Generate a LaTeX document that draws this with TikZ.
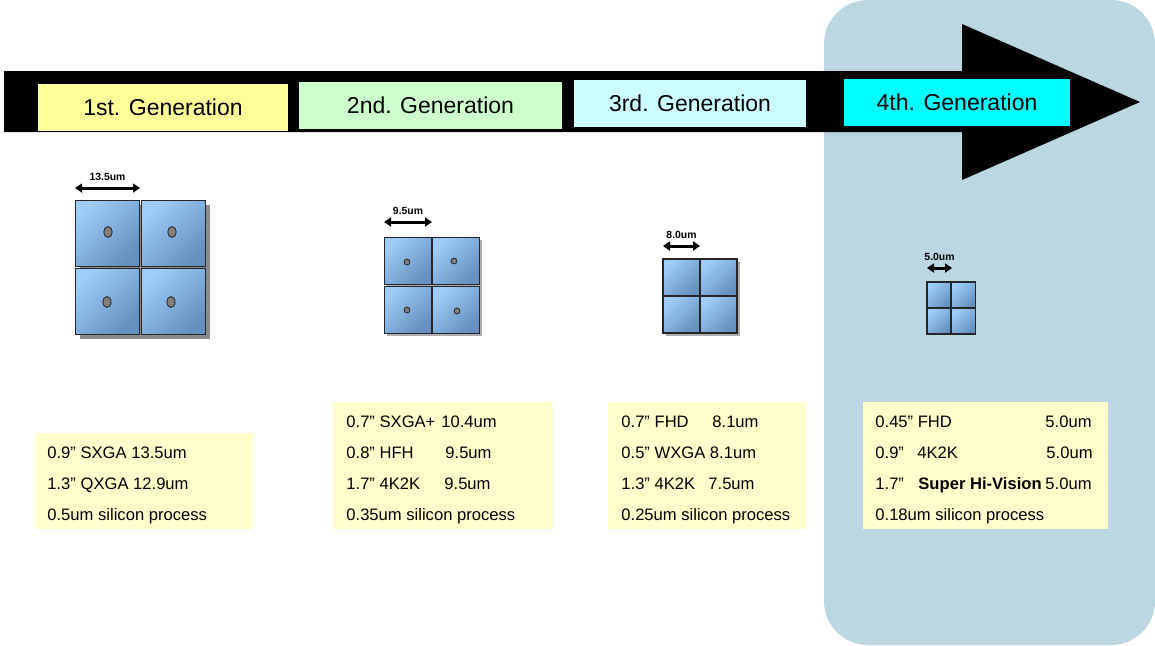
\documentclass[tikz,border=0pt]{standalone}
\usepackage{fontspec}
\setmainfont{Liberation Sans}
\usetikzlibrary{arrows.meta,shapes.geometric}
\definecolor{bgblue}{HTML}{BAD7E2}
\definecolor{gena}{HTML}{FFFF99}
\definecolor{genb}{HTML}{CCFFCC}
\definecolor{genc}{HTML}{CCFFFF}
\definecolor{gend}{HTML}{00FFFF}
\definecolor{memo}{HTML}{FFFFCC}
\definecolor{pixlight}{HTML}{9DCDF8}
\definecolor{pixdark}{HTML}{6690BE}
\definecolor{pixshadow}{HTML}{8C8C8C}

\begin{document}
\begin{tikzpicture}[x=0.5pt,y=-0.5pt,
	gen/.style = {minimum height=23.5pt, inner sep=0pt, font=\fontsize{11.5}{12}\selectfont},
	pix/.style = {draw=black!85, line width=0.5pt, top color=pixlight, bottom color=pixdark, shading angle=45, inner sep=0pt, outer sep=0pt},
	dot/.style = {draw=black!80, fill=gray, ellipse, line width=0.5pt, inner sep=0pt},
	memobox/.style = {fill=memo, inner sep=0pt},
	info/.style = {anchor=base west, inner sep=0pt, font=\fontsize{8.3}{10}\selectfont},
	infor/.style = {anchor=base east, inner sep=0pt, font=\fontsize{8.3}{10}\selectfont},
	dim/.style = {{Triangle[length=3.5pt,width=4.5pt]}-{Triangle[length=3.5pt,width=4.5pt]}, line width=1.5pt},
	dimlabel/.style = {inner sep=1pt, font=\bfseries\fontsize{5.2}{6}\selectfont}]
	\useasboundingbox (0,0) rectangle (1155,645);
	
	% background of the 4th generation
	\fill[bgblue, rounded corners=22pt] (824,0) rectangle (1155,645);
	
	% time arrow
	\fill[black] (4,71) -- (962,71) -- (962,24) -- (1140,102) -- (962,180) -- (962,132) -- (4,132) -- cycle;
	
	\node[gen, fill=gena, minimum width=125pt] (1) at (163,107) {1st. Generation};
	\node[gen, fill=genb, minimum width=131.5pt] (2) at (430.5,105.5) {2nd. Generation};
	\node[gen, fill=genc, minimum width=116pt] (3) at (690,103.5) {3rd. Generation};
	\node[gen, fill=gend, minimum width=113pt] (4) at (957,102.5) {4th. Generation};
	
	% pixels 13.5um
	\fill[pixshadow] (80,205) rectangle (210,339);
	\node[pix, minimum width=32pt, minimum height=33pt] (1a) at (107,233) {};
	\node[pix, minimum width=32pt, minimum height=33pt] (1b) at (173.5,233) {};
	\node[pix, minimum width=32pt, minimum height=33pt] (1c) at (107,301) {};
	\node[pix, minimum width=32pt, minimum height=33pt] (1d) at (173.5,301) {};
	\node[dot, minimum width=4.2pt, minimum height=5.4pt] (1ad) at (108,232) {};
	\node[dot, minimum width=4.2pt, minimum height=5.4pt] (1bd) at (172,232) {};
	\node[dot, minimum width=4.2pt, minimum height=5.4pt] (1cd) at (107,302) {};
	\node[dot, minimum width=4.2pt, minimum height=5.4pt] (1dd) at (171,302) {};
	\coordinate (1l) at (75,188);
	\coordinate (1r) at (140,188);
	
	% pixels 9.5um
	\fill[pixshadow!70] (387,240) rectangle (482,336);
	\node[pix, minimum size=23.5pt] (2a) at (407.5,260.5) {};
	\node[pix, minimum size=23.5pt] (2b) at (456,260.5) {};
	\node[pix, minimum size=23.5pt] (2c) at (407.5,309.5) {};
	\node[pix, minimum size=23.5pt] (2d) at (456,309.5) {};
	\node[dot, minimum size=2.9pt] (2ad) at (407,262) {};
	\node[dot, minimum size=2.9pt] (2bd) at (454,261) {};
	\node[dot, minimum size=2.9pt] (2cd) at (407,310) {};
	\node[dot, minimum size=2.9pt] (2dd) at (457,311) {};
	\coordinate (2l) at (384,222);
	\coordinate (2r) at (432,222);
	
	% pixels 8.0um
	\fill[pixshadow!70] (666,262) rectangle (740,336);
	\node[pix, line width=0.8pt, minimum size=18.5pt] (3a) at (681.5,277.5) {};
	\node[pix, line width=0.8pt, minimum size=18.5pt] (3b) at (718.5,277.5) {};
	\node[pix, line width=0.8pt, minimum size=18.5pt] (3c) at (681.5,314.5) {};
	\node[pix, line width=0.8pt, minimum size=18.5pt] (3d) at (718.5,314.5) {};
	\coordinate (3l) at (663,246);
	\coordinate (3r) at (700,246);
	
	% pixels 5.0um
	\node[pix, line width=0.8pt, minimum width=12pt, minimum height=13pt] (4a) at (939,295) {};
	\node[pix, line width=0.8pt, minimum width=12pt, minimum height=13pt] (4b) at (963.5,295) {};
	\node[pix, line width=0.8pt, minimum width=12pt, minimum height=13pt] (4c) at (939,321) {};
	\node[pix, line width=0.8pt, minimum width=12pt, minimum height=13pt] (4d) at (963.5,321) {};
	\coordinate (4l) at (927,268);
	\coordinate (4r) at (952,268);
	
	\draw[dim] (1l) -- node[dimlabel, above=2pt] (1t) {13.5um} (1r);
	\draw[dim] (2l) -- node[dimlabel, above=2pt] (2t) {9.5um} (2r);
	\draw[dim] (3l) -- node[dimlabel, above=2pt] (3t) {8.0um} (3r);
	\draw[dim] (4l) -- node[dimlabel, above=2pt] (4t) {5.0um} (4r);
	
	% panel texts
	\node[memobox, minimum width=109pt, minimum height=48pt] (m1) at (144,481) {};
	\node[memobox, minimum width=110pt, minimum height=63.5pt] (m2) at (443,465.5) {};
	\node[memobox, minimum width=99pt, minimum height=63.5pt] (m3) at (707,465.5) {};
	\node[memobox, minimum width=122.5pt, minimum height=63.5pt] (m4) at (985.5,465.5) {};
	
	\node[info] (m1a) at (47,458) {0.9” SXGA 13.5um};
	\node[info] (m1b) at (47,489) {1.3” QXGA 12.9um};
	\node[info] (m1c) at (47,520) {0.5um silicon process};
	
	\node[info] (m2a) at (346,427) {0.7” SXGA+};
	\node[info] (m2av) at (441,427) {10.4um};
	\node[info] (m2b) at (346,458) {0.8” HFH};
	\node[info] (m2bv) at (445,458) {9.5um};
	\node[info] (m2c) at (346,489) {1.7” 4K2K};
	\node[info] (m2cv) at (444,489) {9.5um};
	\node[info] (m2d) at (346,520) {0.35um silicon process};
	
	\node[info] (m3a) at (621,427) {0.7” FHD};
	\node[info] (m3av) at (712,427) {8.1um};
	\node[info] (m3b) at (621,458) {0.5” WXGA 8.1um};
	\node[info] (m3c) at (621,489) {1.3” 4K2K};
	\node[info] (m3cv) at (708,489) {7.5um};
	\node[info] (m3d) at (621,520) {0.25um silicon process};
	
	\node[info] (m4a) at (875,427) {0.45” FHD};
	\node[infor] (m4av) at (1092,427) {5.0um};
	\node[info] (m4b) at (875,458) {0.9”};
	\node[info] (m4bt) at (917,458) {4K2K};
	\node[infor] (m4bv) at (1093,458) {5.0um};
	\node[info] (m4c) at (875,489) {1.7”};
	\node[info] (m4ct) at (918,489) {\textbf{Super Hi-Vision}};
	\node[infor] (m4cv) at (1092,489) {5.0um};
	\node[info] (m4d) at (875,520) {0.18um silicon process};
	
\end{tikzpicture}
\end{document}
